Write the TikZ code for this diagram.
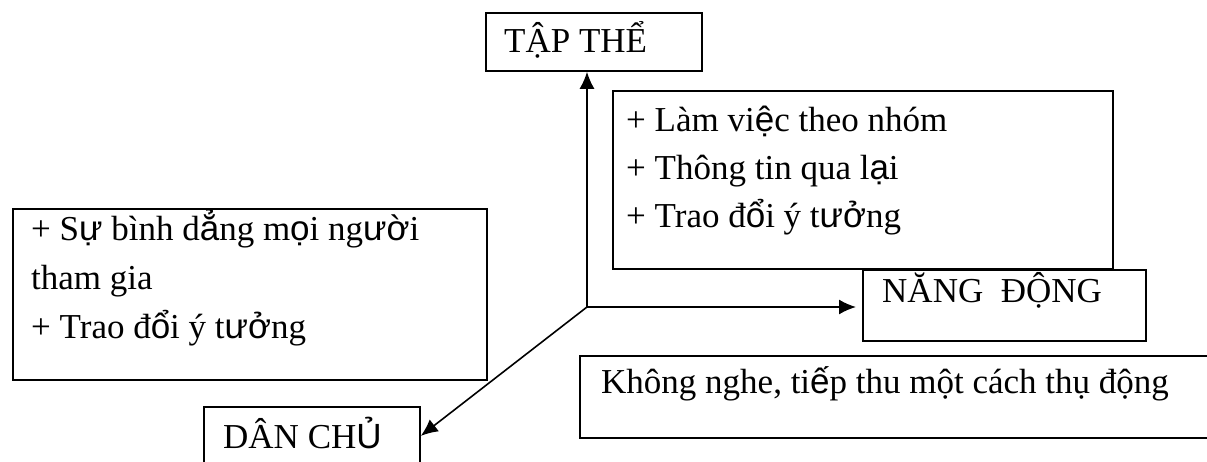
\documentclass[tikz,border=0pt]{standalone}
\usepackage{fontspec}
\setmainfont{Liberation Serif}
\newfontfamily\sansalt{Liberation Sans}
\newcommand\sv[1]{{\sansalt #1}}
\usetikzlibrary{arrows.meta}
\begin{document}
\begin{tikzpicture}[x=1pt,y=-1pt,
  box/.style={draw,line width=1.8pt,inner sep=0pt,anchor=north west},
  txt/.style={anchor=base west,inner sep=0pt,font=\fontsize{35}{40}\selectfont},
  arr/.style={line width=1.6pt,-{Latex[length=17pt,width=15pt]}}]
\useasboundingbox (0,0) rectangle (1207,462);
% boxes
\node[box,minimum width=216pt,minimum height=58pt] (tap) at (485,12) {};
\node[box,minimum width=500pt,minimum height=178pt] (ideas) at (612,90) {};
\node[box,minimum width=283pt,minimum height=71pt] (nang) at (862,269) {};
\node[box,minimum width=474pt,minimum height=171pt] (left) at (12,208) {};
\node[box,minimum width=216pt,minimum height=58pt] (dan) at (203,406) {};
\node[box,minimum width=660pt,minimum height=82pt] (khong) at (579,355) {};
% texts
\node[txt] (t1) at (504,53) {TẬP THỂ};
\node[txt] (t2) at (626,132) {+ Làm vi\sv{ệ}c theo nhóm};
\node[txt] (t3) at (626,180) {+ Thông tin qua l\sv{ạ}i};
\node[txt] (t4) at (626,228) {+ Trao đ\sv{ổ}i ý t\sv{ưở}ng};
\node[txt] (t5) at (882,302) {NĂNG\ \ ĐỘNG};
\node[txt] (t6) at (31,241) {+ S\sv{ự} bình d\sv{ẳ}ng m\sv{ọ}i ng\sv{ườ}i};
\node[txt] (t7) at (31,290) {tham gia};
\node[txt] (t8) at (31,338) {+ Trao đ\sv{ổ}i ý t\sv{ưở}ng};
\node[txt] (t9) at (223,448) {DÂN CH\sv{Ủ}};
\node[txt] (t10) at (601,393) {Không nghe, ti\sv{ế}p thu một cách thụ động};
% connectors
\coordinate (j) at (587,307);
\draw[arr] (j) -- (j |- tap.south);
\draw[arr,shorten >=6pt] (j) -- (nang.west |- j);
\draw[arr] (j) -- (dan.east);
\end{tikzpicture}
\end{document}
